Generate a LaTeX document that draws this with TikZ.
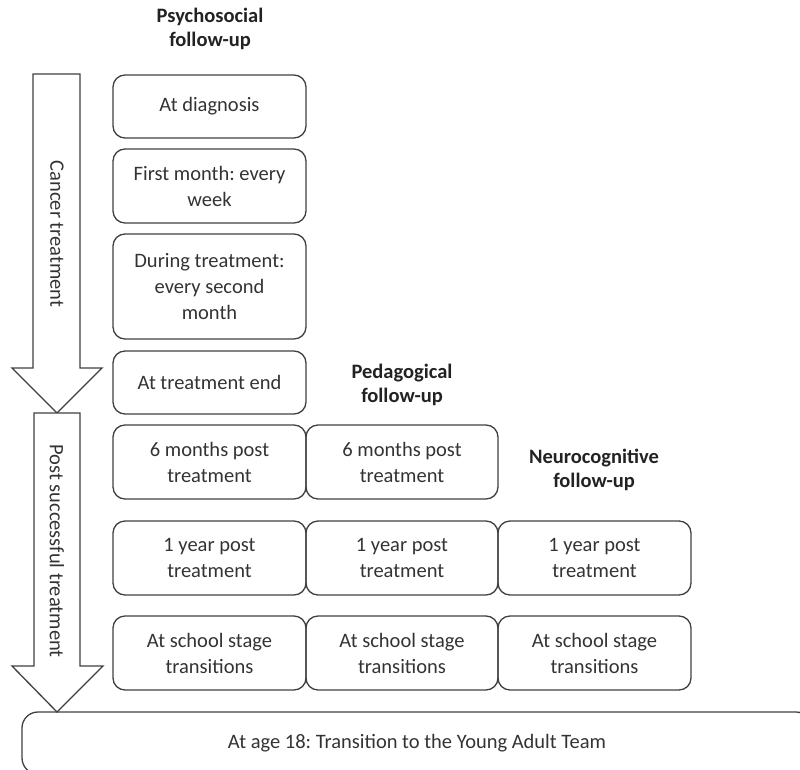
\documentclass[tikz,border=0pt]{standalone}
\usepackage{fontspec}
\setmainfont{Carlito}
\frenchspacing
\definecolor{linec}{HTML}{404040}
\definecolor{textc}{HTML}{333333}
\definecolor{headc}{HTML}{222222}
\begin{document}
\begin{tikzpicture}[x=1pt,y=-1pt,
  box/.style={draw=linec, line width=1.3pt, rounded corners=12pt, inner sep=0pt,
    align=center, text=textc, font=\fontsize{20.5}{26}\selectfont},
  w1/.style={minimum width=193pt},
  head/.style={align=center, text=headc, font=\fontsize{20.5}{24}\selectfont\bfseries},
  blockarrow/.style={draw=linec, line width=1.3pt, fill=white, line join=miter},
  arrowlabel/.style={rotate=-90, text=textc, font=\fontsize{20.5}{26}\selectfont}]
\useasboundingbox (0,0) rectangle (800,770);
\clip (0,0) rectangle (800,770);
% headers
\node[head] (h1) at (210,29) {Psychosocial\\follow-up};
\node[head] (h2) at (402,385) {Pedagogical\\follow-up};
\node[head] (h3) at (594,470) {Neurocognitive\\follow-up};
% block arrows
\draw[blockarrow] (33,74) -- (80,74) -- (80,368) -- (102,368) -- (57,413) -- (12,368) -- (33,368) -- cycle;
\node[arrowlabel] (a1) at (57,234) {Cancer treatment};
\draw[blockarrow] (34,413) -- (80,413) -- (80,666) -- (103,666) -- (57,712) -- (12,666) -- (34,666) -- cycle;
\node[arrowlabel] (a2) at (57,551) {Post successful treatment};
% column 1
\node[box, w1, minimum height=63pt] (c1r1) at (209.5,106.5) {At diagnosis};
\node[box, w1, minimum height=74pt] (c1r2) at (209.5,186) {First month: every\\week};
\node[box, w1, minimum height=105pt] (c1r3) at (209.5,286.5) {During treatment:\\every second\\month};
\node[box, w1, minimum height=63pt] (c1r4) at (209.5,382.5) {At treatment end};
\node[box, w1, minimum height=74pt] (c1r5) at (209.5,462) {6 months post\\treatment};
\node[box, w1, minimum height=74pt] (c1r6) at (209.5,558) {1 year post\\treatment};
\node[box, w1, minimum height=74pt] (c1r7) at (209.5,653) {At school stage\\transitions};
% column 2
\node[box, minimum width=192pt, minimum height=74pt] (c2r5) at (402,462) {6 months post\\treatment};
\node[box, minimum width=192pt, minimum height=74pt] (c2r6) at (402,558) {1 year post\\treatment};
\node[box, minimum width=192pt, minimum height=74pt] (c2r7) at (402,653) {At school stage\\transitions};
% column 3
\node[box, w1, minimum height=74pt] (c3r6) at (594.5,558) {1 year post\\treatment};
\node[box, w1, minimum height=74pt] (c3r7) at (594.5,653) {At school stage\\transitions};
% bottom box
\node[box, rounded corners=16pt, minimum width=790pt, minimum height=62pt] (bot) at (417,743) {At age 18: Transition to the Young Adult Team};
\end{tikzpicture}
\end{document}
